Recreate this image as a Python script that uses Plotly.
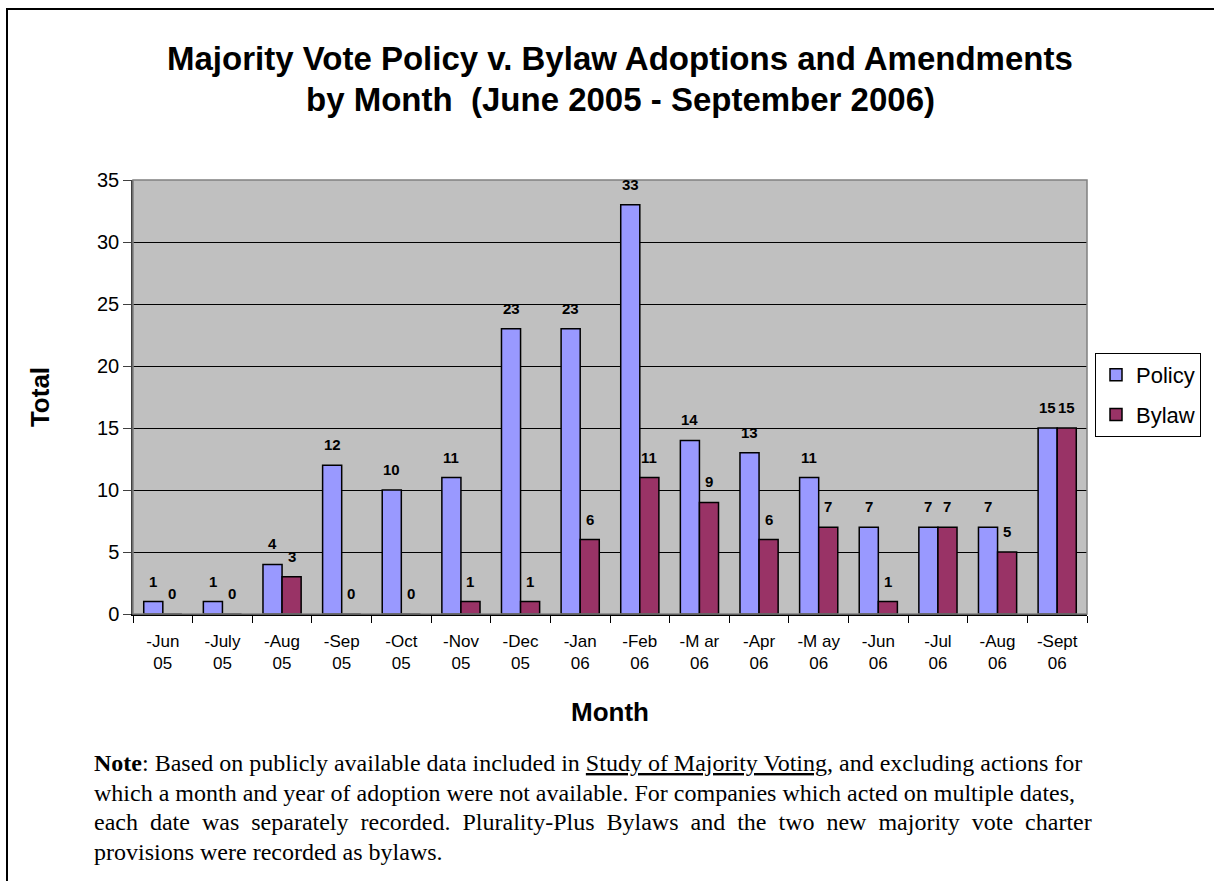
import plotly.graph_objects as go

# Monthly counts of majority-vote policy and bylaw actions
months = ["-Jun<br>05", "-July<br>05", "-Aug<br>05", "-Sep<br>05", "-Oct<br>05", "-Nov<br>05",
          "-Dec<br>05", "-Jan<br>06", "-Feb<br>06", "-M ar<br>06", "-Apr<br>06", "-M ay<br>06",
          "-Jun<br>06", "-Jul<br>06", "-Aug<br>06", "-Sept<br>06"]
policy = [1, 1, 4, 12, 10, 11, 23, 23, 33, 14, 13, 11, 7, 7, 7, 15]
bylaw = [0, 0, 3, 0, 0, 1, 1, 6, 11, 9, 6, 7, 1, 7, 5, 15]

NB = "\u00a0"
note_lines = [
    "<b>Note</b>: Based on publicly available data included in <u>Study of Majority Voting</u>, and excluding actions for",
    "which a month and year of adoption were not available. For companies which acted on multiple dates,",
    (" " + NB).join("each date was separately recorded. Plurality-Plus Bylaws and the two new majority vote charter".split(" ")),
    "provisions were recorded as bylaws.",
]

W, H = 1214, 881
L, R, T, B = 133, 1087, 180, 614  # plot area in pixels
BARGAP = 0.36


def px(x):
    return (x - L) / (R - L)


def py(y):
    return (B - y) / (B - T)


fig = go.Figure()
fig.add_trace(go.Bar(name="Policy", x=months, y=policy, legendgroup="p",
                     marker=dict(color="#9999FF", line=dict(color="black", width=1.5))))
fig.add_trace(go.Bar(name="Bylaw", x=months, y=bylaw, legendgroup="b",
                     marker=dict(color="#993366", line=dict(color="black", width=1.5))))

# value labels above each bar, shifted to the centre of its bar within the group
cat_w = (R - L) / len(months)
half_bar = cat_w * (1 - BARGAP) / 4
annotations = []
for series, sign in ((policy, -1), (bylaw, 1)):
    for m, v in zip(months, series):
        annotations.append(dict(
            x=m, y=v, xref="x", yref="y", text=f"<b>{v}</b>", showarrow=False,
            xshift=sign * half_bar, yshift=10, yanchor="bottom",
            font=dict(family="Arial", size=15, color="black"),
        ))

annotations += [
    dict(text="<b>Majority Vote Policy v. Bylaw Adoptions and Amendments</b>", x=px(620), y=py(58),
         xref="paper", yref="paper", yanchor="middle", showarrow=False,
         font=dict(family="Arial", size=33, color="black")),
    dict(text="<b>by Month  (June 2005 - September 2006)</b>", x=px(620), y=py(100),
         xref="paper", yref="paper", yanchor="middle", showarrow=False,
         font=dict(family="Arial", size=33, color="black")),
]
for i, line in enumerate(note_lines):
    annotations.append(dict(
        text=line, x=px(92), y=py(763 + 29.5 * i), xref="paper", yref="paper", xanchor="left",
        yanchor="middle", showarrow=False, font=dict(family="Liberation Serif", size=24, color="black"),
    ))

fig.update_layout(
    width=W, height=H,
    margin=dict(l=L, r=W - R, t=T, b=H - B, pad=0),
    paper_bgcolor="white", plot_bgcolor="#C0C0C0",
    barmode="group", bargap=BARGAP, bargroupgap=0,
    font=dict(family="Arial", color="black"),
    showlegend=True,
    legend=dict(x=px(1095), y=py(353), xanchor="left", yanchor="top", tracegroupgap=8,
                bgcolor="white", bordercolor="black", borderwidth=1,
                font=dict(family="Arial", size=22, color="black")),
    annotations=annotations,
    shapes=[
        dict(type="rect", xref="paper", yref="paper", x0=0, x1=1, y0=0, y1=1,
             line=dict(color="#808080", width=1.5), layer="above"),
        dict(type="rect", xref="paper", yref="paper", x0=px(7), x1=px(1230), y0=py(9), y1=py(890),
             line=dict(color="black", width=2)),
    ],
)
fig.update_yaxes(range=[0, 35], dtick=5, showgrid=True, gridcolor="black", gridwidth=1,
                 ticks="outside", ticklen=8, tickcolor="#404040", showline=True, linecolor="#404040",
                 linewidth=1.5, tickfont=dict(family="Arial", size=20), zeroline=False,
                 title=dict(text="<b>Total</b>", font=dict(family="Arial", size=26), standoff=40))
fig.update_xaxes(type="category", tickson="boundaries", ticks="outside", ticklen=7, tickcolor="black",
                 showline=True, linecolor="black", linewidth=1.5, tickfont=dict(family="Arial", size=17),
                 ticklabelstandoff=11,
                 title=dict(text="<b>Month</b>", font=dict(family="Arial", size=26), standoff=31))

fig.write_html("out.html")
